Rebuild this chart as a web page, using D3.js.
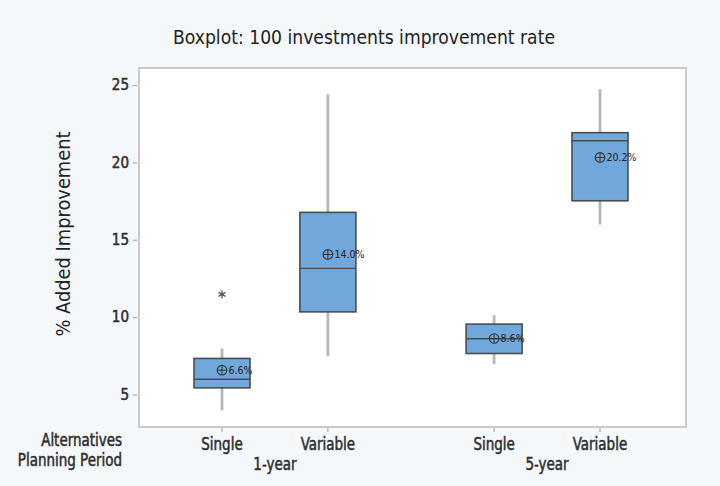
<!DOCTYPE html>
<html>
<head>
<meta charset="utf-8">
<script src="https://cdn.jsdelivr.net/npm/d3@7"></script>
<style>
  html, body { margin: 0; padding: 0; background: #f4f8fb; }
  svg { display: block; }
  text { font-family: "DejaVu Sans Condensed", "Liberation Sans Narrow", "Roboto", sans-serif; }
</style>
</head>
<body>
<svg id="chart" width="720" height="486"></svg>
<script>
// ---- data ----
const groups = ["1-year", "5-year"];
const alternatives = ["Single", "Variable"];
const whiskerLow  = [3.98, 7.48, 6.96, 15.99];
const q1          = [5.43, 10.34, 7.65, 17.52];
const median      = [5.99, 13.15, 8.60, 21.40];
const q3          = [7.33, 16.77, 9.55, 21.92];
const whiskerHigh = [7.97, 24.40, 10.13, 24.74];
const means       = [6.57, 14.05, 8.62, 20.32];
const meanLabels  = ["6.6%", "14.0%", "8.6%", "20.2%"];
const outliers    = [[11.47], [], [], []];
const yTicks      = [5, 10, 15, 20, 25];
const titleText   = "Boxplot: 100 investments improvement rate";
const yLabel      = "% Added Improvement";
const rowLabels   = ["Alternatives", "Planning Period"];

// ---- layout ----
const svg = d3.select("#chart");
const frame = { left: 139, right: 686, top: 68, bottom: 427 };
const groupGap = 2.57;
const boxW = 56;
const textCol = "#2e2e2e";

// condense a text element horizontally by a ratio
function condense(sel, ratio) {
  sel.each(function () {
    const w = this.getComputedTextLength();
    d3.select(this).attr("textLength", w * ratio).attr("lengthAdjust", "spacingAndGlyphs");
  });
}

const boxes = [];
groups.forEach((g, gi) => alternatives.forEach((a, ai) => {
  const i = gi * alternatives.length + ai;
  boxes.push({ g, a, gi, slot: gi * groupGap + ai, i,
    lo: whiskerLow[i], q1: q1[i], med: median[i], q3: q3[i], hi: whiskerHigh[i],
    mean: means[i], label: meanLabels[i], out: outliers[i] });
}));

const x = d3.scaleLinear().domain([0, groupGap + 1]).range([222, 600]);
const y = d3.scaleLinear().domain([2.9, 26.1]).range([frame.bottom, frame.top]);

// plot background
svg.append("rect")
  .attr("x", frame.left).attr("y", frame.top)
  .attr("width", frame.right - frame.left).attr("height", frame.bottom - frame.top)
  .attr("fill", "#ffffff").attr("stroke", "#c8cacc").attr("stroke-width", 2);

// title
svg.append("text")
  .attr("x", 364).attr("y", 44).attr("text-anchor", "middle")
  .attr("font-size", 20).attr("fill", "#222")
  .attr("textLength", 382).attr("lengthAdjust", "spacingAndGlyphs")
  .text(titleText);

// y axis
const yAxis = d3.axisLeft(y).tickValues(yTicks).tickSize(4).tickPadding(4);
const yg = svg.append("g").attr("transform", `translate(${frame.left - 2},0)`).call(yAxis);
yg.select(".domain").remove();
yg.selectAll(".tick line").attr("stroke", "#9a9a9a");
yg.selectAll(".tick text").attr("font-size", 15).attr("fill", textCol)
  .attr("stroke", textCol).attr("stroke-width", 0.5)
  .style("font-family", "'DejaVu Sans Condensed', sans-serif");

// y label
svg.append("text")
  .attr("transform", `translate(70,234) rotate(-90)`)
  .attr("text-anchor", "middle").attr("font-size", 20).attr("fill", "#222")
  .attr("textLength", 205).attr("lengthAdjust", "spacingAndGlyphs")
  .text(yLabel);

// x axis ticks and labels
const xg = svg.append("g");
boxes.forEach(b => {
  xg.append("line")
    .attr("x1", x(b.slot)).attr("x2", x(b.slot))
    .attr("y1", frame.bottom + 1).attr("y2", frame.bottom + 5)
    .attr("stroke", "#9a9a9a");
});
const catLabels = xg.selectAll("text.cat").data(boxes).join("text")
  .attr("class", "cat")
  .attr("x", b => x(b.slot)).attr("y", 450).attr("text-anchor", "middle")
  .attr("font-size", 17).attr("fill", textCol)
  .attr("stroke", textCol).attr("stroke-width", 0.5)
  .text(b => b.a);
const grpLabels = xg.selectAll("text.grp").data(groups).join("text")
  .attr("class", "grp")
  .attr("x", (g, gi) => (x(gi * groupGap) + x(gi * groupGap + alternatives.length - 1)) / 2)
  .attr("y", 470).attr("text-anchor", "middle")
  .attr("font-size", 17).attr("fill", textCol)
  .attr("stroke", textCol).attr("stroke-width", 0.5)
  .text(g => g);
const rowText = xg.selectAll("text.row").data(rowLabels).join("text")
  .attr("class", "row")
  .attr("x", 122).attr("y", (t, ri) => 446 + ri * 20).attr("text-anchor", "end")
  .attr("font-size", 17).attr("fill", textCol)
  .attr("stroke", textCol).attr("stroke-width", 0.5)
  .text(t => t);
condense(catLabels, 0.88);
condense(grpLabels, 0.88);
condense(rowText, 0.88);

// boxes
const bg = svg.append("g");
const asterisk = d3.symbol().type(d3.symbolAsterisk).size(45);
boxes.forEach(b => {
  const cx = x(b.slot);
  // whiskers
  bg.append("line").attr("x1", cx).attr("x2", cx).attr("y1", y(b.hi)).attr("y2", y(b.q3))
    .attr("stroke", "#b5b7b9").attr("stroke-width", 2.8);
  bg.append("line").attr("x1", cx).attr("x2", cx).attr("y1", y(b.q1)).attr("y2", y(b.lo))
    .attr("stroke", "#b5b7b9").attr("stroke-width", 2.8);
  // box
  bg.append("rect")
    .attr("x", cx - boxW / 2).attr("y", y(b.q3))
    .attr("width", boxW).attr("height", y(b.q1) - y(b.q3))
    .attr("fill", "#70a8dc").attr("stroke", "#4a4d50").attr("stroke-width", 1.6);
  // median
  bg.append("line").attr("x1", cx - boxW / 2).attr("x2", cx + boxW / 2)
    .attr("y1", y(b.med)).attr("y2", y(b.med))
    .attr("stroke", "#4a4d50").attr("stroke-width", 1.4);
  // mean symbol
  const my = y(b.mean);
  bg.append("circle").attr("cx", cx).attr("cy", my).attr("r", 4.8)
    .attr("fill", "none").attr("stroke", "#333").attr("stroke-width", 1.1);
  bg.append("line").attr("x1", cx - 4.8).attr("x2", cx + 4.8).attr("y1", my).attr("y2", my)
    .attr("stroke", "#333").attr("stroke-width", 1);
  bg.append("line").attr("x1", cx).attr("x2", cx).attr("y1", my - 4.8).attr("y2", my + 4.8)
    .attr("stroke", "#333").attr("stroke-width", 1);
  bg.append("text").attr("x", cx + 6.5).attr("y", my + 3.8)
    .attr("font-size", 11).attr("fill", "#222")
    .attr("textLength", b.label.length * 6).attr("lengthAdjust", "spacingAndGlyphs")
    .text(b.label);
  // outliers
  b.out.forEach(o => {
    bg.append("path").attr("d", asterisk)
      .attr("transform", `translate(${cx},${y(o)})`)
      .attr("fill", "none").attr("stroke", "#555").attr("stroke-width", 1.3);
  });
});
</script>
</body>
</html>
